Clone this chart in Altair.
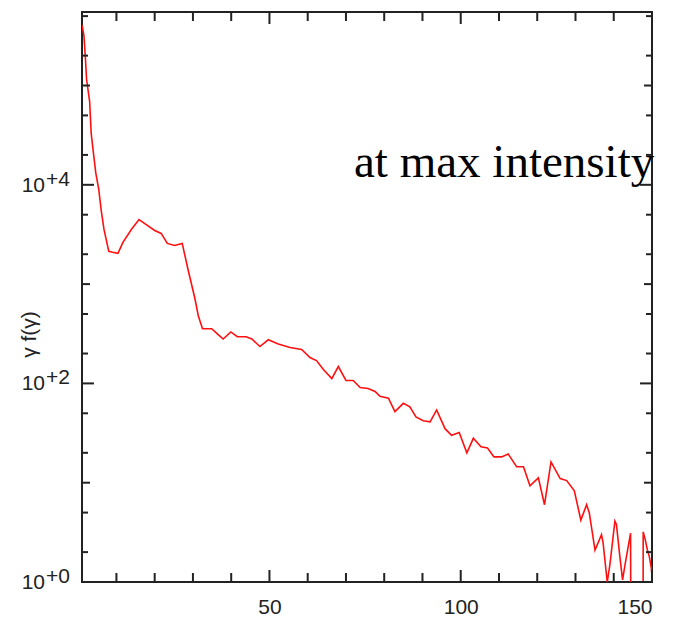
import altair as alt
import pandas as pd

# gamma values (x) and gamma*f(gamma) (y)
gam = [1.0, 1.5, 1.9, 2.2, 3.0, 3.4, 3.9, 4.6, 5.4, 6.0, 6.75, 8.0, 9.0, 10.4, 11.7,
       13.9, 15.9, 17.8, 20.0, 21.7, 23.3, 25.2, 27.2, 28.7, 30.5, 31.4, 32.5, 34.9,
       36.6, 37.9, 39.9, 41.6, 43.9, 45.4, 47.5, 49.7, 52.3, 55.4, 58.4, 60.6, 62.3,
       64.1, 66.3, 68.0, 70.0, 71.9, 73.7, 75.8, 77.6, 78.9, 81.1, 82.8, 85.0, 86.7,
       88.3, 90.2, 92.0, 93.7, 95.9, 97.6, 99.6, 101.6, 103.3, 105.3, 107.0, 108.7,
       110.7, 112.4, 114.6, 116.4, 118.1, 120.3, 121.9, 122.5, 123.6, 126.0, 127.7,
       129.7, 131.4, 132.9, 133.6, 135.1, 136.8, 137.2, 138.3, 139.0, 140.3, 140.7,
       141.6, 142.3, 142.9, 143.8, 144.4, 144.6, 147.6, 147.7, 148.2, 148.8, 149.3,
       149.8, 150.0]
gf = [407000, 320000, 186000, 115000, 69000, 33000, 22400, 13200, 8900, 5600, 3550,
      2140, 2090, 2040, 2630, 3550, 4470, 3980, 3470, 3240, 2570, 2450, 2570, 1410,
      720, 480, 355, 355, 310, 280, 330, 295, 295, 280, 235, 275, 250, 230, 220, 182,
      170, 138, 112, 148, 107, 107, 91, 89, 83, 74, 71, 52, 63, 58, 46, 42, 41, 54,
      35, 30, 32, 20, 28, 23, 22.4, 18.2, 18.2, 19.5, 14.5, 14.5, 9.3, 11.2, 6.0,
      8.5, 16.2, 11.0, 10.5, 8.3, 4.2, 6.0, 5.0, 2.1, 3.0, 2.5, 1.0, 1.5, 4.1, 3.8,
      1.8, 1.05, 1.45, 2.3, 3.1, 0.001, 0.001, 3.2, 2.7, 2.1, 1.8, 1.4, 1.15]

y_label_vals = [1, 100, 10000]
y_label_exps = ["+0", "+2", "+4"]
y_major = [1, 100, 10000]
y_mid = [10, 1000, 100000]
y_minor = [2, 5, 20, 50, 200, 500, 2000, 5000, 20000, 50000, 200000, 500000]
x_major = [50, 100, 150]
x_minor = [10, 20, 30, 40, 60, 70, 80, 90, 110, 120, 130, 140]
note_text = ["at max intensity"]
note_x = [72.1]
note_y = [12100]

W, H = 570, 570
xs = alt.Scale(domain=[1, 150], nice=False, zero=False)
ys = alt.Scale(type="log", domain=[1, 550000], nice=False)
TICK = "#222222"
LF = 21

line = alt.Chart(pd.DataFrame({"g": gam, "v": gf})).mark_line(
    color="#ff1010", strokeWidth=1.6, clip=True
).encode(
    x=alt.X("g:Q", scale=xs,
            axis=alt.Axis(values=x_major, ticks=False, domain=False, grid=False,
                          labelFont="Liberation Sans", labelFontSize=LF,
                          labelColor="#222222", labelPadding=14, title=None)),
    y=alt.Y("v:Q", scale=ys,
            axis=alt.Axis(labels=False, ticks=False, domain=False, grid=False,
                          title="γ f(γ)", titleFont="Liberation Sans",
                          titleFontSize=21, titleFontWeight="normal",
                          titleColor="#222222", titleX=-53, titleY=322,
                          titleAngle=270, titleAlign="center",
                          titleBaseline="middle")),
)

def yticks(vals, length):
    df = pd.DataFrame({"v": vals})
    left = alt.Chart(df).mark_rule(color=TICK, strokeWidth=2).encode(
        y=alt.Y("v:Q", scale=ys), x=alt.value(0), x2=alt.value(length))
    right = alt.Chart(df).mark_rule(color=TICK, strokeWidth=2).encode(
        y=alt.Y("v:Q", scale=ys), x=alt.value(W), x2=alt.value(W - length))
    return [left, right]

def xticks(vals, length):
    df = pd.DataFrame({"g": vals})
    bottom = alt.Chart(df).mark_rule(color=TICK, strokeWidth=2).encode(
        x=alt.X("g:Q", scale=xs), y=alt.value(H), y2=alt.value(H - length))
    top = alt.Chart(df).mark_rule(color=TICK, strokeWidth=2).encode(
        x=alt.X("g:Q", scale=xs), y=alt.value(0), y2=alt.value(length))
    return [bottom, top]

lab_df = pd.DataFrame({"v": y_label_vals, "e": y_label_exps, "b": ["10"] * 3})
lab_base = alt.Chart(lab_df).mark_text(
    font="Liberation Sans", fontSize=LF, color="#222222", align="right",
    baseline="middle", dy=1
).encode(y=alt.Y("v:Q", scale=ys), x=alt.value(-37), text="b:N")
lab_exp = alt.Chart(lab_df).mark_text(
    font="Liberation Sans", fontSize=LF, color="#222222", align="left",
    baseline="middle", dy=-5
).encode(y=alt.Y("v:Q", scale=ys), x=alt.value(-36), text="e:N")

note = alt.Chart(pd.DataFrame({"t": note_text, "g": note_x, "v": note_y})).mark_text(
    font="Liberation Serif", fontSize=47, color="black", align="left",
    baseline="alphabetic"
).encode(x=alt.X("g:Q", scale=xs), y=alt.Y("v:Q", scale=ys), text="t:N")

layers = [line, note, lab_base, lab_exp]
layers += yticks(y_major, 12) + yticks(y_mid, 8) + yticks(y_minor, 6)
layers += xticks(x_major, 12) + xticks(x_minor, 9)

chart = alt.layer(*layers).properties(
    width=W, height=H, autosize="none",
    padding={"left": 82, "top": 12, "right": 24, "bottom": 38},
    background="white",
).configure_view(stroke="#222222", strokeWidth=2)

chart.save("out.html", embed_options={"renderer": "svg", "actions": False})
